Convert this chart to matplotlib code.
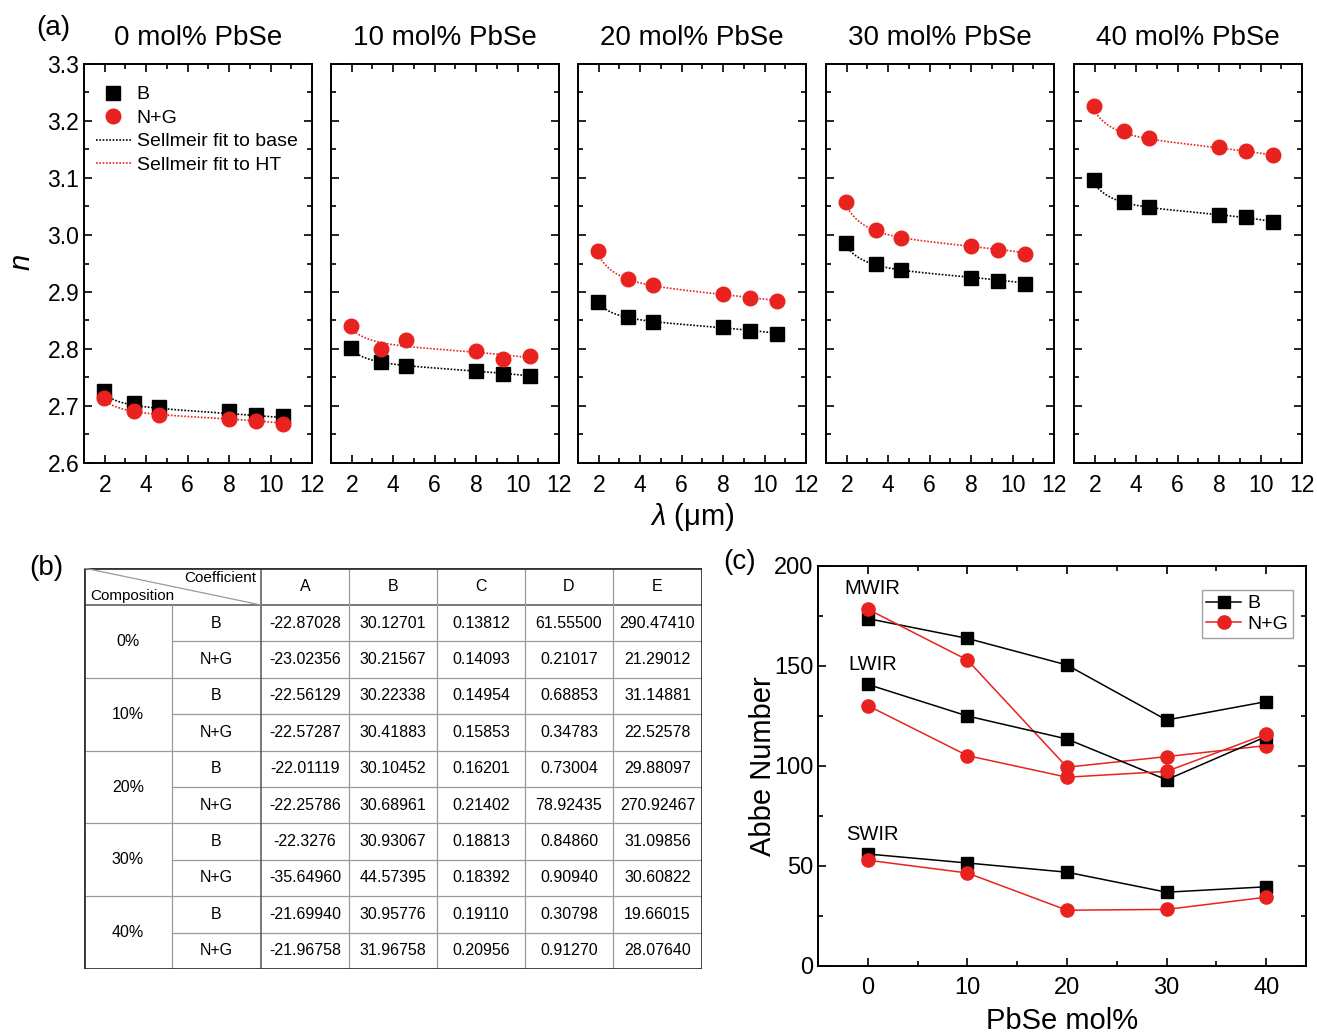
import numpy as np
import matplotlib
matplotlib.use("Agg")
import matplotlib.pyplot as plt
from matplotlib.ticker import MultipleLocator, FormatStrFormatter

plt.rcParams['font.family'] = ['Liberation Sans', 'DejaVu Sans']
plt.rcParams['mathtext.fontset'] = 'custom'
plt.rcParams['mathtext.it'] = 'Liberation Sans:italic'
plt.rcParams['mathtext.rm'] = 'Liberation Sans'

# ---- (a) refractive index vs wavelength ----
wl = [1.95, 3.39, 4.6, 8.0, 9.3, 10.6]          # um
pbse = [0, 10, 20, 30, 40]                       # mol% PbSe
n_base = [
    [2.727, 2.705, 2.699, 2.691, 2.685, 2.682],
    [2.801, 2.777, 2.771, 2.761, 2.756, 2.752],
    [2.883, 2.856, 2.848, 2.838, 2.832, 2.827],
    [2.986, 2.949, 2.939, 2.925, 2.919, 2.914],
    [3.096, 3.058, 3.050, 3.035, 3.031, 3.022],
]
n_ht = [
    [2.714, 2.692, 2.685, 2.678, 2.673, 2.669],
    [2.841, 2.800, 2.816, 2.797, 2.783, 2.787],
    [2.972, 2.922, 2.912, 2.896, 2.890, 2.884],
    [3.058, 3.009, 2.995, 2.981, 2.974, 2.967],
    [3.226, 3.183, 3.170, 3.154, 3.148, 3.141],
]

# ---- (b) Sellmeier coefficients ----
coef_names = ['A', 'B', 'C', 'D', 'E']
comp_labels = ['0%', '10%', '20%', '30%', '40%']
coef_base = [
    ['-22.87028', '30.12701', '0.13812', '61.55500', '290.47410'],
    ['-22.56129', '30.22338', '0.14954', '0.68853', '31.14881'],
    ['-22.01119', '30.10452', '0.16201', '0.73004', '29.88097'],
    ['-22.3276', '30.93067', '0.18813', '0.84860', '31.09856'],
    ['-21.69940', '30.95776', '0.19110', '0.30798', '19.66015'],
]
coef_ht = [
    ['-23.02356', '30.21567', '0.14093', '0.21017', '21.29012'],
    ['-22.57287', '30.41883', '0.15853', '0.34783', '22.52578'],
    ['-22.25786', '30.68961', '0.21402', '78.92435', '270.92467'],
    ['-35.64960', '44.57395', '0.18392', '0.90940', '30.60822'],
    ['-21.96758', '31.96758', '0.20956', '0.91270', '28.07640'],
]

# ---- (c) Abbe numbers ----
bands = ['MWIR', 'LWIR', 'SWIR']
band_label_y = [189, 151, 65.5]
abbe_base = [
    [173.7, 163.8, 150.5, 123.0, 132.2],
    [140.8, 125.0, 113.5, 93.1, 114.7],
    [56.0, 51.5, 46.9, 36.9, 39.6],
]
abbe_ht = [
    [178.4, 153.0, 99.4, 104.7, 110.2],
    [130.2, 105.2, 94.4, 97.3, 115.9],
    [52.9, 46.5, 27.9, 28.3, 34.4],
]


def sellmeier(lam, coefs):
    A, B, C, D, E = [float(v) for v in coefs]
    l2 = lam ** 2
    return np.sqrt(A + B * l2 / (l2 - C ** 2) + D * l2 / (l2 - E ** 2))


W, H = 1317, 1033
fig = plt.figure(figsize=(W / 100, H / 100), dpi=100)


def px_axes(x0, y0, x1, y1):
    return fig.add_axes([x0 / W, 1 - y1 / H, (x1 - x0) / W, (y1 - y0) / H])


def style_ticks(ax, size):
    ax.tick_params(which='both', direction='in', top=True, right=True,
                   labelsize=size, width=1.2)
    ax.tick_params(which='major', length=6)
    ax.tick_params(which='minor', length=3.5)
    for s in ax.spines.values():
        s.set_linewidth(1.4)


red = '#e8231f'
lam_fit = np.linspace(wl[0], wl[-1], 200)
lefts = [84, 331, 578, 826, 1074]
for i, c in enumerate(pbse):
    ax = px_axes(lefts[i], 64, lefts[i] + 228, 463)
    ax.plot(lam_fit, sellmeier(lam_fit, coef_base[i]), color='black',
            ls=(0, (1, 1)), lw=1.2, label='Sellmeir fit to base')
    ax.plot(lam_fit, sellmeier(lam_fit, coef_ht[i]), color=red,
            ls=(0, (1, 1)), lw=1.2, label='Sellmeir fit to HT')
    ax.plot(wl, n_base[i], 's', color='black', ms=9.5, ls='none', label='B')
    ax.plot(wl, n_ht[i], 'o', color=red, ms=10.5, ls='none', label='N+G')
    ax.set_xlim(1, 12)
    ax.set_ylim(2.6, 3.3)
    ax.xaxis.set_major_locator(MultipleLocator(2))
    ax.xaxis.set_minor_locator(MultipleLocator(1))
    ax.yaxis.set_major_locator(MultipleLocator(0.1))
    ax.yaxis.set_minor_locator(MultipleLocator(0.05))
    ax.yaxis.set_major_formatter(FormatStrFormatter('%.1f'))
    style_ticks(ax, 16.5)
    ax.tick_params(axis='x', pad=8)
    if i > 0:
        ax.tick_params(axis='y', labelleft=False)
    ax.set_title(f'{c} mol% PbSe', fontsize=20, pad=14)
    if i == 0:
        h, l = ax.get_legend_handles_labels()
        order = [2, 3, 0, 1]
        ax.legend([h[k] for k in order], [l[k] for k in order], loc='upper left',
                  bbox_to_anchor=(0.035, 0.955), frameon=False, fontsize=14,
                  handlelength=1.8, handletextpad=0.3, labelspacing=0.3,
                  borderpad=0.2, borderaxespad=0)

fig.text(22 / W, 1 - 262 / H, 'n', style='italic', rotation=90, fontsize=21,
         ha='center', va='center')
fig.text(692 / W, 1 - 517 / H, r'$\mathit{\lambda}$ (μm)', fontsize=21,
         ha='center', va='center')

# ---- (b) table ----
tb = px_axes(84, 568, 702, 969)
tb.set_xlim(0, 618)
tb.set_ylim(401, 0)
tb.axis('off')
cols = [0, 88, 177, 265, 353, 441, 529, 618]
hdr = 37
rh = (401 - hdr) / 10
grid = '#9a9a9a'
for k in range(1, 10):
    y = hdr + k * rh
    x0 = 0 if k % 2 == 0 else cols[1]
    tb.plot([x0, 618], [y, y], color=grid, lw=0.9)
tb.plot([0, 618], [hdr, hdr], color='#555555', lw=1.1)
for k, x in enumerate(cols[1:-1], start=1):
    y0 = hdr if k == 1 else 0
    tb.plot([x, x], [y0, 401], color='#555555' if k == 2 else grid,
            lw=1.1 if k == 2 else 0.9)
tb.plot([0, 618, 618, 0, 0], [0, 0, 401, 401, 0], color='#333333', lw=2)
tb.plot([0, cols[2]], [0, hdr], color=grid, lw=0.9)
tb.text(cols[2] - 5, 10, 'Coefficient', fontsize=11, ha='right', va='center')
tb.text(6, 28, 'Composition', fontsize=11, ha='left', va='center')
for j, name in enumerate(coef_names):
    tb.text((cols[j + 2] + cols[j + 3]) / 2, hdr / 2, name, fontsize=11.5,
            ha='center', va='center')
for g, comp in enumerate(comp_labels):
    ytop = hdr + 2 * g * rh
    tb.text(44, ytop + rh, comp, fontsize=11.5, ha='center', va='center')
    for r, (sub, row) in enumerate([('B', coef_base[g]), ('N+G', coef_ht[g])]):
        yc = ytop + (r + 0.5) * rh
        tb.text((cols[1] + cols[2]) / 2, yc, sub, fontsize=11.5,
                ha='center', va='center')
        for j, val in enumerate(row):
            tb.text((cols[j + 2] + cols[j + 3]) / 2, yc, val, fontsize=11.5,
                    ha='center', va='center')

# ---- (c) Abbe number ----
axc = px_axes(818, 566, 1306, 966)
for b in range(len(bands)):
    axc.plot(pbse, abbe_base[b], '-s', color='black', lw=1.1, ms=8.5,
             label='B' if b == 0 else None)
    axc.plot(pbse, abbe_ht[b], '-o', color=red, lw=1.1, ms=9.5,
             label='N+G' if b == 0 else None)
    axc.text(0.5, band_label_y[b], bands[b], fontsize=14.5, ha='center',
             va='center')
axc.set_xlim(-5, 44)
axc.set_ylim(0, 200)
axc.xaxis.set_major_locator(MultipleLocator(10))
axc.xaxis.set_minor_locator(MultipleLocator(5))
axc.yaxis.set_major_locator(MultipleLocator(50))
axc.yaxis.set_minor_locator(MultipleLocator(25))
style_ticks(axc, 17)
axc.tick_params(axis='x', pad=8)
axc.set_xlabel('PbSe mol%', fontsize=21, labelpad=6)
axc.set_ylabel('Abbe Number', fontsize=21, labelpad=-2)
leg = axc.legend(loc='upper right', bbox_to_anchor=(1 - 13 / 488, 1 - 24 / 400),
                 borderaxespad=0, fontsize=14, handlelength=1.8,
                 handletextpad=0.3, labelspacing=0.15, borderpad=0.25,
                 fancybox=False, edgecolor='#888888')
leg.get_frame().set_linewidth(1.0)

fig.text(53 / W, 1 - 28 / H, '(a)', fontsize=20, ha='center', va='center')
fig.text(46 / W, 1 - 568 / H, '(b)', fontsize=20, ha='center', va='center')
fig.text(740 / W, 1 - 562 / H, '(c)', fontsize=20, ha='center', va='center')

fig.savefig('out.png', dpi=100)
